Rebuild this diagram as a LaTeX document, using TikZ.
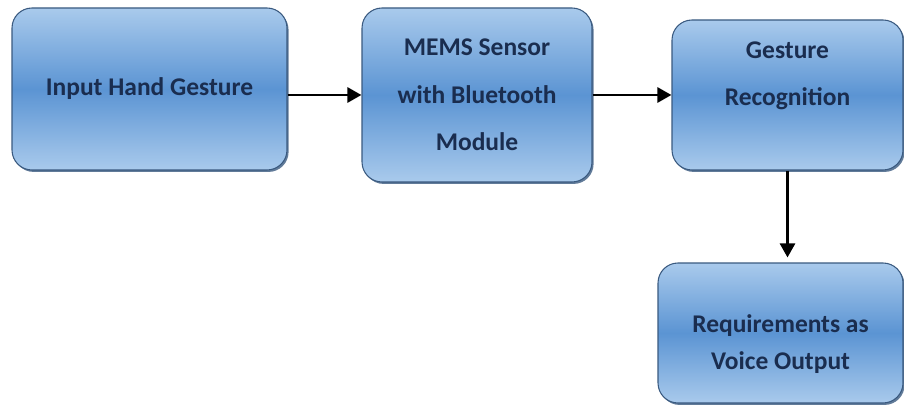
\documentclass[tikz,border=0pt]{standalone}
\usepackage{fontspec}
\setmainfont{Carlito}
\usetikzlibrary{arrows.meta,shadows}
\definecolor{boxtop}{HTML}{A9CAEC}
\definecolor{boxmid}{HTML}{5B94D3}
\definecolor{boxedge}{HTML}{3A5A80}
\definecolor{boxtext}{HTML}{1A2D4F}
\tikzset{
    box/.style={draw=boxedge, line width=0.6pt, rounded corners=0.4cm,
        top color=boxtop, bottom color=boxtop, middle color=boxmid,
        drop shadow={shadow xshift=0.9pt, shadow yshift=-1.1pt, opacity=0.8, fill=boxedge},
        text=boxtext, align=center, font=\bfseries\fontsize{14.5}{27}\selectfont},
    btext/.style={text=boxtext, align=center},
    arr/.style={line width=1.7pt, -{Triangle[length=8pt,width=8.5pt]}}
}
\begin{document}
\begin{tikzpicture}
    \useasboundingbox[fill=white] (0,0) rectangle (18.08,8.14);

    \node[box, minimum width=5.5cm, minimum height=3.24cm] (input) at (2.99,6.36) {Input Hand Gesture};
    \node[box, minimum width=4.6cm, minimum height=3.48cm] (mems) at (9.54,6.24) {MEMS Sensor\\with Bluetooth\\Module};
    \node[box, minimum width=4.62cm, minimum height=3.0cm,
        label={[btext, font=\bfseries\fontsize{14.5}{27}\selectfont, yshift=0.38cm]center:{Gesture\\Recognition}}] (recog) at (15.75,6.24) {};
    \node[box, minimum width=4.9cm, minimum height=2.8cm,
        label={[btext, font=\bfseries\fontsize{14.5}{21}\selectfont, yshift=-0.22cm]center:{Requirements as\\Voice Output}}] (voice) at (15.61,1.48) {};

    \draw[arr] (input.east |- mems.west) -- (mems.west);
    \draw[arr] (mems.east) -- (recog.west);
    \draw[arr, shorten >=0.1cm] (recog.south) -- (recog.south |- voice.north);
\end{tikzpicture}
\end{document}
